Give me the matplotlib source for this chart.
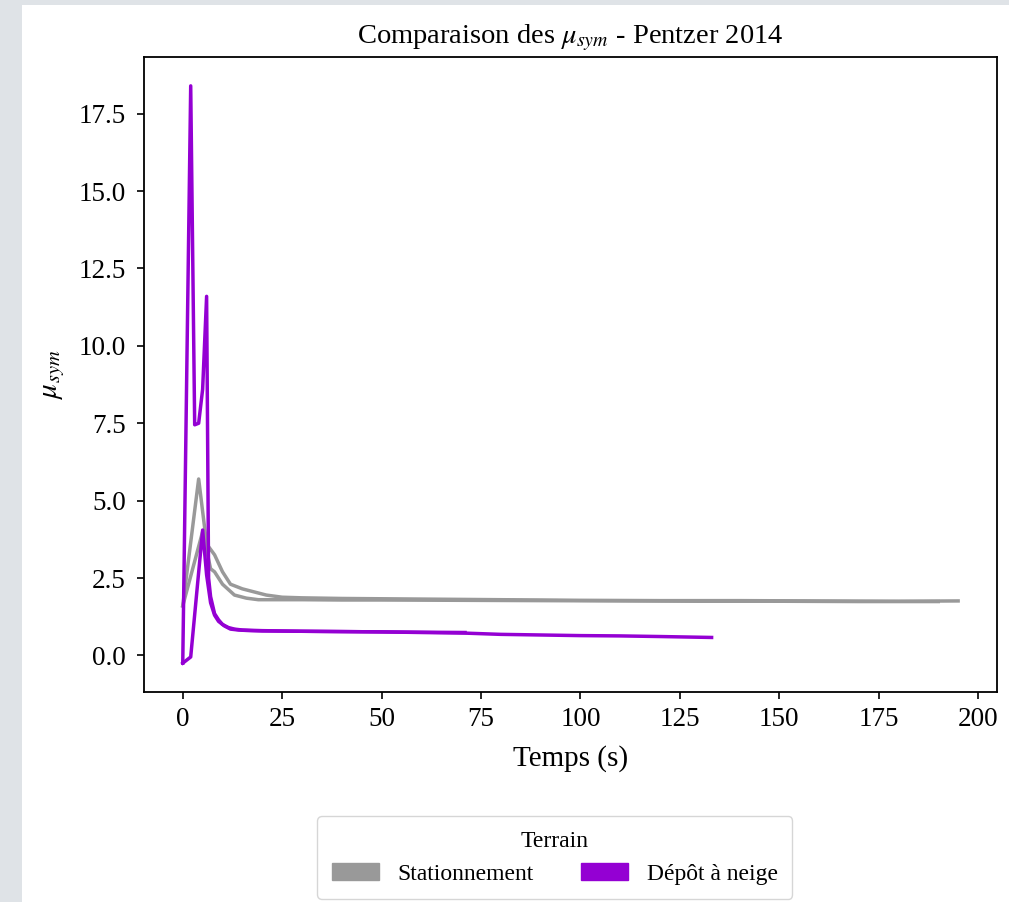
import matplotlib
matplotlib.use("Agg")
import matplotlib.pyplot as plt
from matplotlib.patches import Patch, Rectangle

plt.rcParams['font.family'] = ['Liberation Serif', 'DejaVu Serif']
plt.rcParams['mathtext.fontset'] = 'stix'

# essais stationnement (gris)
stat1_t = [0, 4, 6, 8, 10, 12, 15, 18, 21, 25, 30, 40, 50, 60, 80, 100, 120, 140, 160, 180, 195]
stat1_mu = [1.6, 5.7, 3.6, 3.25, 2.7, 2.3, 2.15, 2.05, 1.95, 1.88, 1.86, 1.84, 1.83, 1.82, 1.8, 1.78, 1.77, 1.77, 1.76, 1.75, 1.76]
stat2_t = [0, 5, 7, 8, 10, 13, 16, 19, 25, 30, 40, 50, 70, 90, 110, 130, 150, 170, 190]
stat2_mu = [1.6, 4.0, 2.8, 2.7, 2.3, 1.95, 1.85, 1.8, 1.8, 1.8, 1.79, 1.79, 1.78, 1.77, 1.76, 1.75, 1.75, 1.74, 1.74]

# essais depot a neige (violet)
depot1_t = [0, 2, 3, 4, 5, 6, 6.5, 7, 8, 9, 10, 11.5, 13, 15, 20, 30, 40, 50, 60, 71, 80, 90, 100, 110, 120, 133]
depot1_mu = [-0.25, 18.4, 7.45, 7.5, 8.6, 11.6, 2.5, 1.9, 1.35, 1.15, 1.0, 0.9, 0.85, 0.82, 0.8, 0.78, 0.77, 0.76, 0.74, 0.72, 0.68, 0.66, 0.64, 0.63, 0.61, 0.58]
depot2_t = [0, 2, 5, 6, 7, 8, 9, 10.5, 12, 14, 17, 20, 30, 40, 50, 60, 71]
depot2_mu = [-0.25, -0.05, 4.05, 2.6, 1.7, 1.3, 1.1, 0.95, 0.85, 0.82, 0.8, 0.79, 0.78, 0.77, 0.76, 0.75, 0.74]

gris = '#999999'
violet = '#9400d3'

fig = plt.figure(figsize=(10.09, 9.02), dpi=100, facecolor='#dfe3e7')
fig.add_artist(Rectangle((22 / 1009, 0), 1 - 22 / 1009, 1 - 5 / 902,
                         transform=fig.transFigure, facecolor='white',
                         edgecolor='none', zorder=-1))
ax = fig.add_axes([0.1427, 0.2328, 0.8453, 0.704])

ax.plot(stat1_t, stat1_mu, color=gris, lw=2.5)
ax.plot(stat2_t, stat2_mu, color=gris, lw=2.5)
ax.plot(depot1_t, depot1_mu, color=violet, lw=2.5)
ax.plot(depot2_t, depot2_mu, color=violet, lw=2.5)

ax.set_yticks([0, 2.5, 5, 7.5, 10, 12.5, 15, 17.5])
ax.set_xticks([0, 25, 50, 75, 100, 125, 150, 175, 200])
ax.tick_params(labelsize=19.5, length=5, width=1.2)
ax.tick_params(axis='y', pad=8)
ax.tick_params(axis='x', pad=6)
for s in ax.spines.values():
    s.set_linewidth(1.3)

ax.set_title(r'Comparaison des $\mu_{sym}$ - Pentzer 2014', fontsize=20.5, pad=10)
ax.set_xlabel('Temps (s)', fontsize=21, labelpad=9)
ax.set_ylabel(r'$\mu_{sym}$', fontsize=21, labelpad=8)

handles = [Patch(color=gris, label='Stationnement'),
           Patch(color=violet, label='Dépôt à neige')]
fig.legend(handles=handles, title='Terrain', ncol=2, loc='center',
           bbox_to_anchor=(0.55, 0.049), fontsize=17, title_fontsize=17,
           handlelength=2.0, handletextpad=0.8, columnspacing=2.0,
           borderpad=0.6)

fig.savefig('out.png', dpi=100, facecolor=fig.get_facecolor())
